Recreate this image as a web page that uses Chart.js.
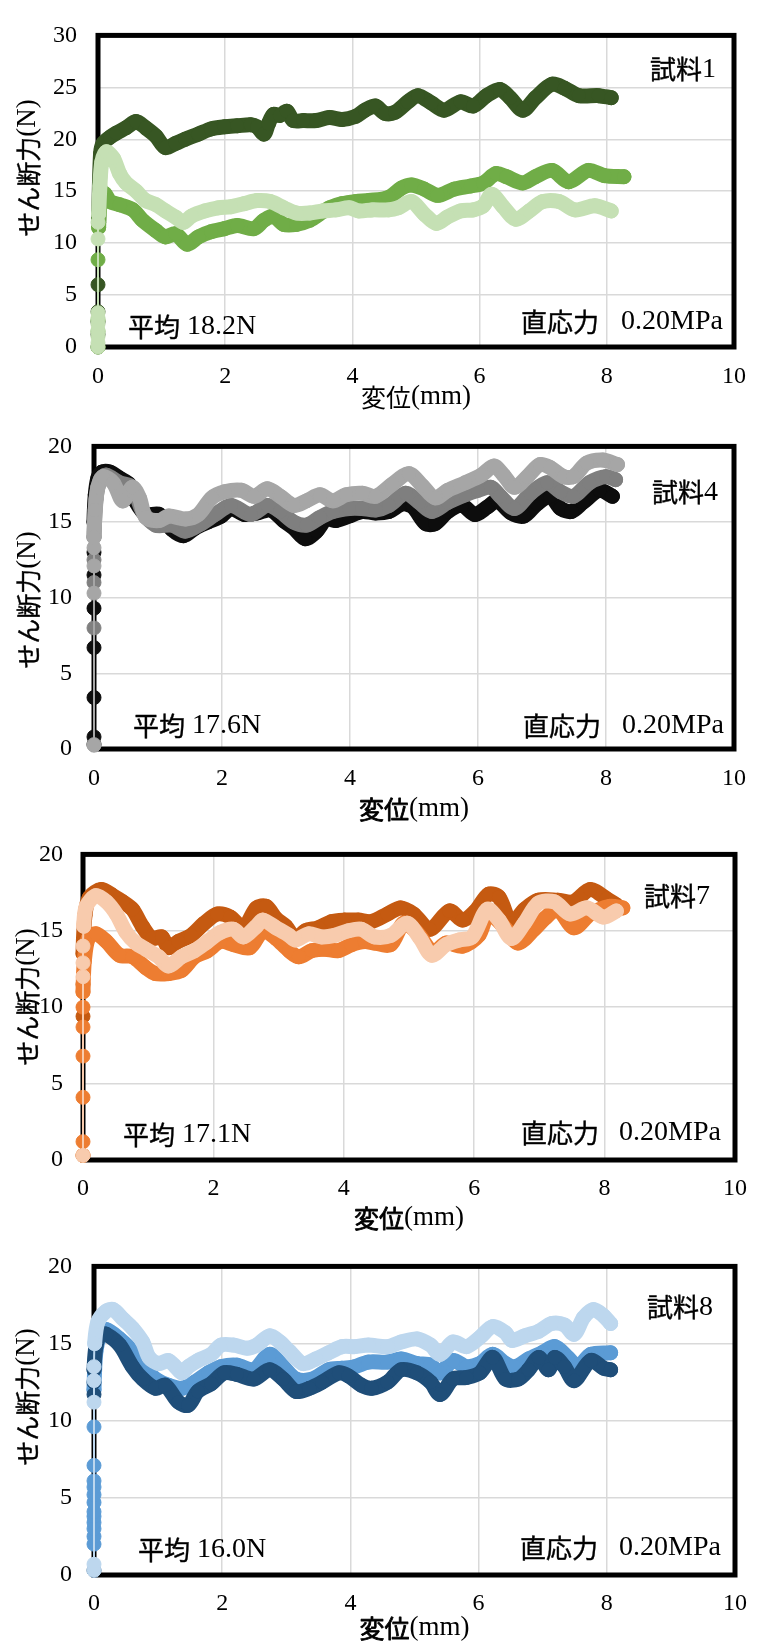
<!DOCTYPE html>
<html>
<head>
<meta charset="utf-8">
<script src="https://cdn.jsdelivr.net/npm/chart.js@4.4.1/dist/chart.umd.min.js"></script>
<style>
  html, body { margin: 0; padding: 0; background: #fff; }
  body { width: 761px; height: 1645px; position: relative; overflow: hidden; }
  canvas { position: absolute; left: 0; display: block; }
</style>
</head>
<body>
<canvas id="c1" width="761" height="420" style="top:0px"></canvas>
<canvas id="c2" width="761" height="420" style="top:410px"></canvas>
<canvas id="c3" width="761" height="420" style="top:820px"></canvas>
<canvas id="c4" width="761" height="415" style="top:1230px"></canvas>
<script>
// ---- labels ----
const xTitle = '変位(mm)';
const yTitle = 'せん断力(N)';
const sampleNames = ['試料1', '試料4', '試料7', '試料8'];
const averageLabels = ['平均 18.2N', '平均 17.6N', '平均 17.1N', '平均 16.0N'];
const stressLabel = '直応力';
const stressValue = '0.20MPa';
const xMax = 10, xStep = 2;
const yMaxes = [30, 20, 20, 20];
const yStep = 5;

// ---- 試料1 (green) ----
const s1aX = [0,0,0,0,0,0.01,0.04,0.08,0.19,0.29,0.44,0.6,0.75,0.91,1.06,1.22,1.37,1.58,1.78,1.99,2.19,2.4,2.5,2.61,2.68,2.76,2.86,2.97,3.07,3.23,3.43,3.64,3.84,4.05,4.2,4.36,4.51,4.67,4.87,5.03,5.24,5.44,5.7,5.9,6.11,6.32,6.48,6.68,6.88,7.14,7.34,7.56,7.87,8.07];
const s1aY = [0,1.2,2.4,3.4,6.0,12.0,18.6,19.6,20.2,20.6,21.1,21.7,21.1,20.3,19.2,19.6,20.0,20.5,21.0,21.2,21.3,21.4,21.2,20.5,21.5,22.4,22.3,22.7,21.8,21.8,21.8,22.1,21.9,22.2,22.8,23.2,22.5,22.6,23.6,24.2,23.5,22.8,23.6,23.2,24.2,24.8,24.0,22.8,24.0,25.3,24.9,24.2,24.2,24.0];
const s1bX = [0,0,0,0,0.01,0.04,0.1,0.19,0.34,0.55,0.7,0.91,1.06,1.22,1.4,1.58,1.78,1.99,2.19,2.45,2.61,2.76,2.92,3.12,3.33,3.48,3.64,3.84,4.05,4.26,4.57,4.77,4.93,5.13,5.34,5.6,5.86,6.06,6.26,6.42,6.68,6.88,7.14,7.4,7.71,7.96,8.27];
const s1bY = [0,1.5,2.6,8.4,11.5,14.2,14.8,14.0,13.7,13.2,12.2,11.2,10.6,10.9,9.9,10.6,11.1,11.4,11.7,11.4,12.2,12.6,11.8,11.8,12.2,12.8,13.4,13.8,14.0,14.1,14.4,15.3,15.6,15.2,14.6,15.2,15.5,15.8,16.7,16.4,15.8,16.4,17.0,15.9,17.0,16.5,16.4];
const s1cX = [0,0,0,0,0,0,0,0,0,0.01,0.03,0.06,0.13,0.24,0.34,0.44,0.6,0.75,0.91,1.06,1.22,1.34,1.47,1.68,1.89,2.09,2.3,2.5,2.71,2.92,3.12,3.33,3.53,3.74,3.95,4.1,4.31,4.57,4.72,4.93,5.13,5.32,5.49,5.7,5.9,6.06,6.19,6.37,6.57,6.78,6.99,7.25,7.5,7.81,8.07];
const s1cY = [0,0.4,1.0,1.6,2.2,2.8,3.3,10.4,12.0,12.8,15.5,17.8,18.8,18.2,16.7,15.8,15.0,14.1,13.7,13.1,12.5,12.0,12.6,13.1,13.4,13.5,13.8,14.1,14.0,13.4,12.9,12.9,13.1,13.2,13.4,13.1,13.2,13.2,13.4,14.0,12.8,11.9,12.5,13.1,13.2,13.6,14.7,13.5,12.3,13.1,14.0,14.0,13.2,13.6,13.1];

// ---- 試料4 (grey) ----
const s4aX = [0,0,0,0,0,0,0,0,0.02,0.06,0.12,0.25,0.4,0.55,0.66,0.81,1.02,1.22,1.4,1.58,1.78,1.99,2.14,2.35,2.55,2.76,2.96,3.12,3.3,3.48,3.63,3.78,3.99,4.19,4.4,4.61,4.82,4.98,5.18,5.33,5.53,5.75,5.95,6.15,6.3,6.52,6.72,6.92,7.13,7.29,7.46,7.64,7.9,8.1];
const s4aY = [0.3,0.8,3.4,6.7,9.3,11.5,13.0,15.0,16.8,17.9,18.3,18.3,17.9,17.5,16.3,15.5,15.5,14.5,14.1,14.6,15.0,15.4,15.9,15.5,15.6,15.8,15.1,14.6,13.9,14.4,15.2,15.1,15.4,15.7,15.6,15.7,16.2,16.0,14.9,14.9,15.7,16.1,15.5,16.0,16.4,15.6,15.4,16.2,16.7,15.9,15.7,16.3,17.1,16.7];
const s4bX = [0,0,0,0,0,0.03,0.1,0.19,0.4,0.6,0.76,0.96,1.22,1.43,1.68,1.89,2.14,2.45,2.71,2.91,3.12,3.32,3.53,3.73,3.99,4.19,4.4,4.61,4.87,5.08,5.28,5.53,5.8,6.0,6.2,6.35,6.57,6.82,7.08,7.29,7.49,7.74,8.0,8.15];
const s4bY = [0.3,8.0,11.0,12.5,14.0,16.5,17.8,18.1,17.6,17.3,15.7,14.8,14.8,14.4,14.9,15.5,16.1,15.5,16.1,15.7,15.0,14.8,15.3,15.7,15.9,15.9,15.8,16.1,16.9,16.3,15.7,16.3,16.8,17.1,17.3,16.7,15.9,16.9,17.6,17.0,16.7,17.6,18.0,17.8];
const s4cX = [0,0,0,0,0,0.02,0.06,0.14,0.3,0.45,0.6,0.71,0.81,1.02,1.17,1.43,1.63,1.84,2.04,2.3,2.5,2.71,2.91,3.12,3.32,3.53,3.73,3.94,4.19,4.4,4.66,4.92,5.13,5.33,5.53,5.8,6.05,6.25,6.4,6.57,6.77,6.97,7.13,7.34,7.49,7.7,7.95,8.18];
const s4cY = [0.25,10.3,12.1,13.3,14.0,15.8,17.3,18.0,17.6,16.4,17.3,16.6,15.3,15.1,15.4,15.2,15.5,16.6,17.0,17.1,16.7,17.2,16.7,16.1,16.4,16.8,16.4,16.8,16.9,16.7,17.5,18.2,17.4,16.6,17.1,17.6,18.1,18.7,18.1,17.3,18.0,18.8,18.6,18.0,18.0,18.9,19.1,18.8];

// ---- 試料7 (orange) ----
const s7aX = [0,0,0,0,0.03,0.1,0.28,0.46,0.61,0.76,0.91,1.06,1.21,1.31,1.46,1.66,1.86,2.06,2.26,2.46,2.66,2.81,2.96,3.11,3.26,3.41,3.61,3.81,4.01,4.22,4.42,4.67,4.87,5.07,5.32,5.62,5.82,6.02,6.22,6.38,6.57,6.77,6.98,7.28,7.52,7.78,8.03,8.18];
const s7aY = [0.3,9.4,11.5,13.5,16.0,17.2,17.7,17.3,16.9,16.4,15.3,14.5,14.6,13.9,14.3,14.7,15.5,16.1,15.9,15.2,16.5,16.6,15.8,15.3,14.5,15.0,15.2,15.6,15.7,15.7,15.6,16.1,16.5,16.1,15.1,16.3,15.7,16.3,17.4,17.2,15.5,16.4,17.0,17.0,16.9,17.7,17.1,16.7];
const s7bX = [0,0,0,0,0,0,0,0.02,0.08,0.2,0.36,0.56,0.76,0.96,1.11,1.31,1.51,1.71,1.91,2.11,2.31,2.56,2.76,2.96,3.16,3.31,3.51,3.71,3.91,4.12,4.32,4.47,4.72,4.92,5.12,5.37,5.57,5.82,6.07,6.22,6.47,6.67,6.92,7.08,7.28,7.53,7.78,8.08,8.28];
const s7bY = [0.3,1.2,4.1,6.8,8.7,10.0,11.0,13.0,14.5,14.8,14.3,13.4,13.3,12.6,12.2,12.2,12.4,13.3,13.7,14.3,14.1,13.9,15.0,14.5,13.7,13.3,13.7,13.8,13.7,14.1,14.3,14.2,14.1,15.5,14.9,13.6,14.2,14.0,14.7,16.1,15.2,14.2,15.1,15.8,16.4,15.2,16.1,16.6,16.5];
const s7cX = [0,0,0,0,0.01,0.05,0.2,0.36,0.51,0.66,0.81,0.96,1.16,1.31,1.51,1.71,1.91,2.11,2.31,2.46,2.66,2.76,2.96,3.16,3.26,3.46,3.66,3.86,4.07,4.27,4.47,4.72,4.97,5.17,5.35,5.57,5.77,5.97,6.2,6.38,6.57,6.77,6.98,7.23,7.47,7.73,7.98,8.18];
const s7cY = [0.3,12.0,12.9,14.0,15.3,16.6,17.3,16.9,16.1,14.9,14.2,13.8,13.3,12.7,13.3,13.7,14.3,14.9,15.1,14.6,15.3,15.7,15.2,14.7,14.4,14.8,14.6,14.7,15.0,15.1,14.6,14.7,15.5,14.5,13.4,14.1,14.4,14.6,16.4,15.7,14.5,15.5,16.8,16.9,16.1,16.5,15.9,16.3];

// ---- 試料8 (blue) ----
const s8aX = [0,0,0,0,0.03,0.1,0.19,0.4,0.6,0.76,0.96,1.11,1.32,1.47,1.62,1.83,2.03,2.23,2.49,2.74,2.95,3.15,3.36,3.56,3.82,3.97,4.17,4.33,4.58,4.79,5.04,5.25,5.4,5.6,5.81,6.02,6.22,6.42,6.62,6.78,6.94,7.09,7.19,7.34,7.49,7.75,7.95,8.06];
const s8aY = [0.3,11.7,12.5,13.3,14.8,15.6,15.6,14.9,13.5,12.7,12.1,12.3,11.2,11.0,11.9,12.4,13.1,13.0,12.7,13.3,12.7,11.9,12.1,12.5,13.1,12.9,12.3,12.1,12.5,13.3,13.1,12.5,11.7,12.7,12.8,13.1,14.1,12.7,12.7,13.3,14.1,13.3,14.1,13.5,12.6,13.9,13.4,13.3];
const s8bX = [0,0,0,0,0,0,0,0,0,0,0,0,0,0.03,0.1,0.19,0.4,0.6,0.76,0.96,1.16,1.37,1.57,1.78,1.98,2.23,2.49,2.74,2.95,3.15,3.41,3.66,3.87,4.07,4.28,4.58,4.79,5.04,5.25,5.4,5.6,5.81,6.02,6.22,6.42,6.57,6.78,6.99,7.19,7.39,7.55,7.75,8.06];
const s8bY = [2.0,2.5,3.0,3.4,3.8,4.1,4.7,5.2,5.7,6.1,7.1,9.6,12.0,14.5,15.6,15.9,15.3,14.5,13.5,12.7,12.3,12.1,12.5,13.1,13.5,13.6,13.3,14.3,13.5,12.7,12.7,13.3,13.4,13.5,13.8,13.8,14.0,13.7,13.6,13.1,13.9,13.5,13.7,14.3,13.7,13.5,14.0,14.4,14.8,14.1,13.5,14.3,14.4];
const s8cX = [0,0,0,0,0,0.01,0.06,0.19,0.3,0.45,0.6,0.76,0.86,1.01,1.16,1.27,1.37,1.47,1.62,1.83,1.98,2.18,2.39,2.54,2.74,2.9,3.05,3.26,3.46,3.66,3.87,4.07,4.28,4.58,4.79,5.04,5.25,5.4,5.6,5.81,6.02,6.22,6.42,6.52,6.72,6.94,7.14,7.34,7.49,7.64,7.79,7.95,8.06];
const s8cY = [0.3,0.7,11.2,12.6,13.5,15.0,16.4,17.1,17.2,16.6,16.0,15.1,14.1,13.7,13.9,13.5,13.1,13.5,13.9,14.3,14.9,14.9,14.7,14.9,15.5,15.1,14.5,13.7,14.0,14.4,14.8,14.8,14.9,14.8,15.1,15.3,14.9,14.3,15.1,14.8,15.4,16.1,15.7,15.2,15.5,15.8,16.3,16.2,15.6,16.7,17.2,16.8,16.3];

function pts(xs, ys) { return xs.map((x, i) => ({ x: x, y: ys[i] })); }

const SERIF = "'Liberation Serif', 'Times New Roman', serif";
const CJK = "'Noto Sans CJK JP', sans-serif";
const CJK_RE = /[\u3000-\u30ff\u4e00-\u9fff\uff00-\uffef]/;

// Japanese glyphs in a gothic face, Latin glyphs and digits in a serif face.
function splitRuns(text) {
  const runs = [];
  for (const ch of text) {
    const cjk = CJK_RE.test(ch);
    const last = runs[runs.length - 1];
    if (last && last.cjk === cjk) last.text += ch; else runs.push({ text: ch, cjk });
  }
  return runs;
}
function runFont(run, st) {
  return run.cjk ? `${st.cjkSize}px ${CJK}` : `${st.latinSize}px ${SERIF}`;
}
function drawMixed(ctx, text, x, y, align, st) {
  const runs = splitRuns(text);
  let total = 0;
  for (const r of runs) { ctx.font = runFont(r, st); r.w = ctx.measureText(r.text).width; total += r.w; }
  let cx = align === 'left' ? x : align === 'right' ? x - total : x - total / 2;
  ctx.textAlign = 'left';
  ctx.textBaseline = 'middle';
  ctx.strokeStyle = ctx.fillStyle;
  ctx.lineJoin = 'round';
  for (const r of runs) {
    ctx.font = runFont(r, st);
    ctx.fillText(r.text, cx, y);
    if (r.cjk && st.cjkStroke > 0) { ctx.lineWidth = st.cjkStroke; ctx.strokeText(r.text, cx, y); }
    cx += r.w;
  }
}

const boxText = { cjkSize: 26, cjkStroke: 0.4, latinSize: 28 };
const yTitleText = { cjkSize: 25, cjkStroke: 0.4, latinSize: 27 };

// frame around the plot area, the axis titles and the text boxes inside the frame
const framePlugin = {
  id: 'frame',
  beforeDatasetsDraw(chart) {
    const { ctx, chartArea: a } = chart;
    ctx.save();
    ctx.strokeStyle = '#000';
    ctx.lineWidth = 5;
    ctx.strokeRect(a.left, a.top, a.right - a.left, a.bottom - a.top);
    ctx.restore();
  },
  afterDatasetsDraw(chart, args, o) {
    const { ctx, chartArea: a } = chart;
    ctx.save();
    ctx.fillStyle = '#000';
    drawMixed(ctx, o.average, a.left + o.avgDx, a.bottom - o.avgDy, 'left', boxText);
    drawMixed(ctx, o.sample, a.right - o.sampleDx, a.top + o.sampleDy, 'right', boxText);
    drawMixed(ctx, o.value, a.right - o.valueDx, a.bottom - o.stressDy, 'right', boxText);
    drawMixed(ctx, o.stress, a.right - o.stressDx, a.bottom - o.stressDy, 'right', boxText);
    // axis titles
    const xt = { cjkSize: 25, cjkStroke: o.xTitleStroke, latinSize: 27 };
    drawMixed(ctx, xTitle, (a.left + a.right) / 2, o.xTitleY, 'center', xt);
    ctx.translate(o.yTitleX, o.yTitleY);
    ctx.rotate(-Math.PI / 2);
    drawMixed(ctx, yTitle, 0, 0, 'center', yTitleText);
    ctx.restore();
  }
};

function makeChart(id, k, series, geo) {
  const canvas = document.getElementById(id);
  const H = canvas.height;
  const datasets = series.map(s => ({
    data: s.data,
    borderColor: s.color,
    backgroundColor: s.color,
    pointBackgroundColor: s.color,
    pointBorderColor: s.color,
    borderWidth: 15,
    borderJoinStyle: 'round',
    borderCapStyle: 'round',
    pointRadius: 7,
    pointBorderWidth: 1,
    pointHoverRadius: 7,
    tension: 0.3,
    order: s.order,
    clip: false,
    segment: {
      borderWidth: c => (c.p0.parsed.x <= 0.01 && c.p1.parsed.x <= 0.01) ? 2 : 15
    }
  }));
  return new Chart(canvas, {
    type: 'line',
    data: { datasets },
    plugins: [framePlugin],
    options: {
      responsive: false,
      animation: false,
      events: [],
      layout: { padding: { left: 0, bottom: 0, top: geo.T, right: 761 - geo.R } },
      plugins: {
        legend: { display: false },
        tooltip: { enabled: false },
        frame: {
          average: averageLabels[k], sample: sampleNames[k], stress: stressLabel, value: stressValue,
          avgDx: geo.avgDx, avgDy: geo.avgDy, sampleDx: geo.sampleDx, sampleDy: geo.sampleDy,
          stressDx: geo.stressDx, valueDx: geo.valueDx, stressDy: geo.stressDy,
          xTitleY: geo.xTitleY, xTitleStroke: geo.xTitleStroke, yTitleX: geo.yTitleX, yTitleY: geo.yTitleY
        }
      },
      scales: {
        x: {
          type: 'linear', min: 0, max: xMax,
          border: { display: false },
          grid: { color: '#D9D9D9', lineWidth: 1.5, drawTicks: false },
          ticks: { stepSize: xStep, padding: geo.xPad, maxRotation: 0, color: '#000',
                   font: { family: SERIF, size: 24 } },
          afterFit: s => { s.height = H - geo.B; }
        },
        y: {
          type: 'linear', min: 0, max: yMaxes[k],
          border: { display: false },
          grid: { color: '#D9D9D9', lineWidth: 1.5, drawTicks: false },
          ticks: { stepSize: yStep, padding: geo.yPad, color: '#000',
                   font: { family: SERIF, size: 24 } },
          afterFit: s => { s.width = geo.L; }
        }
      }
    }
  });
}

makeChart('c1', 0, [
  { data: pts(s1aX, s1aY), color: '#375623', order: 3 },
  { data: pts(s1bX, s1bY), color: '#70AD47', order: 2 },
  { data: pts(s1cX, s1cY), color: '#C5E0B4', order: 1 }
], { L: 98, T: 17, R: 745, B: 347, xPad: 15, yPad: 21,
     xTitleY: 397, xTitleStroke: 0, yTitleX: 28, yTitleY: 168,
     avgDx: 30, avgDy: 20, sampleDx: 18, sampleDy: 34, stressDx: 135, valueDx: 11, stressDy: 25 });

makeChart('c2', 1, [
  { data: pts(s4aX, s4aY), color: '#0D0D0D', order: 3 },
  { data: pts(s4bX, s4bY), color: '#7F7F7F', order: 2 },
  { data: pts(s4cX, s4cY), color: '#A6A6A6', order: 1 }
], { L: 94, T: 18, R: 743, B: 339, xPad: 15, yPad: 22,
     xTitleY: 399, xTitleStroke: 0.8, yTitleX: 28, yTitleY: 190,
     avgDx: 39, avgDy: 23, sampleDx: 16, sampleDy: 46, stressDx: 133, valueDx: 10, stressDy: 23 });

makeChart('c3', 2, [
  { data: pts(s7aX, s7aY), color: '#C55A11', order: 3 },
  { data: pts(s7bX, s7bY), color: '#ED7D31', order: 2 },
  { data: pts(s7cX, s7cY), color: '#F8CBAD', order: 1 }
], { L: 83, T: 18, R: 748, B: 340, xPad: 14, yPad: 20,
     xTitleY: 398, xTitleStroke: 0.8, yTitleX: 27, yTitleY: 177,
     avgDx: 40, avgDy: 25, sampleDx: 25, sampleDy: 42, stressDx: 136, valueDx: 14, stressDy: 27 });

makeChart('c4', 3, [
  { data: pts(s8bX, s8bY), color: '#5B9BD5', order: 3 },
  { data: pts(s8aX, s8aY), color: '#1F4E79', order: 2 },
  { data: pts(s8cX, s8cY), color: '#BDD7EE', order: 1 }
], { L: 94, T: 16, R: 747, B: 345, xPad: 14, yPad: 22,
     xTitleY: 398, xTitleStroke: 0.8, yTitleX: 27, yTitleY: 167,
     avgDx: 44, avgDy: 25, sampleDx: 22, sampleDy: 41, stressDx: 137, valueDx: 14, stressDy: 27 });
</script>
</body>
</html>
